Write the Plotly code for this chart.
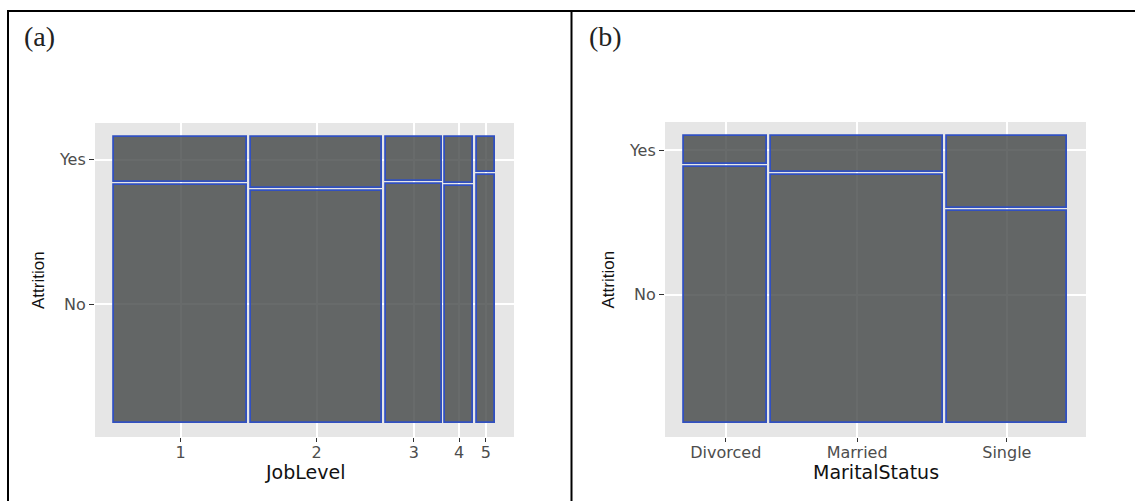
import plotly.graph_objects as go

# ---------------- data ----------------
job_levels = ["1", "2", "3", "4", "5"]
job_share = [0.364, 0.359, 0.152, 0.075, 0.050]      # column widths (share of employees)
job_yes = [0.160, 0.179, 0.154, 0.163, 0.124]        # share of Attrition = Yes in each column

marital_status = ["Divorced", "Married", "Single"]
marital_share = [0.222, 0.458, 0.320]
marital_yes = [0.097, 0.125, 0.253]

attrition_levels = ["No", "Yes"]

# ---------------- styling ----------------
W, H = 1135, 501
PANEL_BG = "#E6E6E6"
TILE_FILL = "rgba(66,70,70,0.8)"
TILE_LINE = "#3150C0"
TICK_FONT = dict(family="DejaVu Sans", size=16, color="#4D4D4D")
TITLE_FONT = dict(family="DejaVu Sans", size=19, color="#111111")
YTITLE_FONT = dict(family="Liberation Sans", size=17, color="#111111")
OFF = 0.01


def px_x(p):
    return p / W


def px_y(p):
    return 1 - p / H


def mosaic(shares, yes, off=OFF):
    n = len(shares)
    scale = (1 - off * (n - 1)) / sum(shares)
    x0, w = [], []
    cur = 0.0
    for s in shares:
        ww = s * scale
        x0.append(cur)
        w.append(ww)
        cur += ww + off
    avail = 1 - off
    no_h = [(1 - p) * avail for p in yes]
    yes_base = [h + off for h in no_h]
    yes_h = [p * avail for p in yes]
    centers = [a + b / 2 for a, b in zip(x0, w)]
    return centers, w, no_h, yes_base, yes_h


fig = go.Figure()

panels = [
    dict(xa="x", ya="y", labels=job_levels, share=job_share, yes=job_yes,
         dom_x=(95, 514), dom_y=(123, 437), xtitle="JobLevel"),
    dict(xa="x2", ya="y2", labels=marital_status, share=marital_share, yes=marital_yes,
         dom_x=(665, 1086), dom_y=(122, 437), xtitle="MaritalStatus"),
]

layout_axes = {}
annotations = []
for i, p in enumerate(panels):
    centers, w, no_h, yes_base, yes_h = mosaic(p["share"], p["yes"])
    for base, hgt, name in [([0] * len(no_h), no_h, "No"), (yes_base, yes_h, "Yes")]:
        fig.add_trace(go.Bar(
            x=centers, y=hgt, base=base, width=w, name=name,
            xaxis=p["xa"], yaxis=p["ya"],
            marker=dict(color=TILE_FILL, line=dict(color=TILE_LINE, width=1.8)),
            showlegend=False, hoverinfo="skip",
        ))
    sfx = "" if i == 0 else "2"
    layout_axes["xaxis" + sfx] = dict(
        domain=[px_x(p["dom_x"][0]), px_x(p["dom_x"][1])],
        anchor="y" + sfx, range=[-0.05, 1.05],
        tickmode="array", tickvals=centers, ticktext=p["labels"],
        ticks="outside", ticklen=4, tickwidth=1.2, tickcolor="#333333",
        ticklabelstandoff=-3,
        showgrid=True, gridcolor="white", gridwidth=1.6,
        zeroline=False, showline=False, tickfont=TICK_FONT, fixedrange=True,
    )
    layout_axes["yaxis" + sfx] = dict(
        domain=[px_y(p["dom_y"][1]), px_y(p["dom_y"][0])],
        anchor="x" + sfx, range=[-0.05, 1.05],
        tickmode="array",
        tickvals=[no_h[0] / 2, yes_base[0] + yes_h[0] / 2],
        ticktext=attrition_levels,
        ticks="outside", ticklen=5, tickwidth=1.2, tickcolor="#333333",
        showgrid=True, gridcolor="white", gridwidth=1.6,
        zeroline=False, showline=False, tickfont=TICK_FONT, fixedrange=True,
    )
    # axis titles
    annotations.append(dict(
        text=p["xtitle"], xref="paper", yref="paper",
        x=px_x((p["dom_x"][0] + p["dom_x"][1]) / 2), y=px_y(472),
        xanchor="center", yanchor="middle", showarrow=False, font=TITLE_FONT,
    ))
    annotations.append(dict(
        text="Attrition", xref="paper", yref="paper",
        x=px_x(p["dom_x"][0] - 57), y=px_y((p["dom_y"][0] + p["dom_y"][1]) / 2),
        xanchor="center", yanchor="middle", showarrow=False, textangle=-90,
        font=YTITLE_FONT,
    ))

# panel letters
for letter, xpx in [("(a)", 22), ("(b)", 587)]:
    annotations.append(dict(
        text=letter, xref="paper", yref="paper", x=px_x(xpx), y=px_y(36),
        xanchor="left", yanchor="middle", showarrow=False,
        font=dict(family="Liberation Serif", size=28, color="#222222"),
    ))

# table border lines
shapes = [
    dict(type="line", xref="paper", yref="paper", x0=px_x(7), x1=1.0, y0=px_y(11), y1=px_y(11),
         line=dict(color="black", width=2)),
    dict(type="line", xref="paper", yref="paper", x0=px_x(8), x1=px_x(8), y0=px_y(10), y1=0,
         line=dict(color="black", width=2)),
    dict(type="line", xref="paper", yref="paper", x0=px_x(571.5), x1=px_x(571.5), y0=px_y(10), y1=0,
         line=dict(color="black", width=2)),
]

fig.update_layout(
    width=W, height=H, margin=dict(l=0, r=0, t=0, b=0),
    paper_bgcolor="white", plot_bgcolor=PANEL_BG,
    barmode="overlay", bargap=0, showlegend=False,
    annotations=annotations, shapes=shapes,
    **layout_axes,
)

fig.write_html(
    "out.html",
    config={"displayModeBar": False},
    post_script="document.body.style.margin='0';document.body.style.overflow='hidden';",
)
